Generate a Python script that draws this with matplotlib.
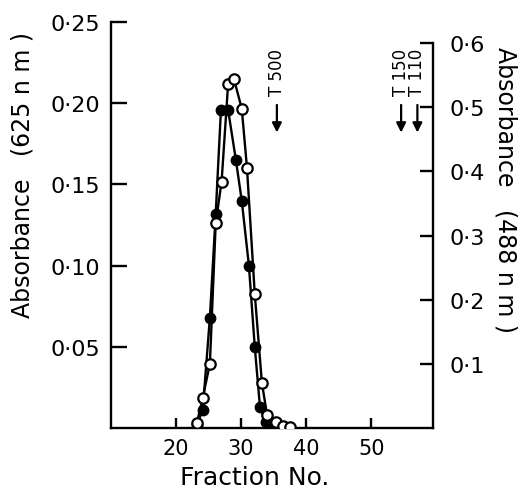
import matplotlib.pyplot as plt
import matplotlib as mpl

mpl.rcParams['font.family'] = 'DejaVu Sans'

# absorbance at 625 nm (filled circles, left axis)
frac_625 = [23.2, 24.1, 25.2, 26.1, 26.9, 28.0, 29.2, 30.1, 31.2, 32.1, 32.9, 33.8, 35.1]
abs_625 = [0.002, 0.011, 0.068, 0.132, 0.196, 0.196, 0.165, 0.140, 0.100, 0.050, 0.013, 0.004, 0.001]

# absorbance at 488 nm (open circles, right axis)
frac_488 = [23.2, 24.1, 25.2, 26.1, 27.0, 28.0, 28.9, 30.1, 30.9, 32.1, 33.2, 34.0, 35.4, 36.5, 37.5]
abs_488 = [0.008, 0.047, 0.100, 0.320, 0.384, 0.536, 0.544, 0.498, 0.406, 0.209, 0.070, 0.020, 0.009, 0.003, 0.002]

# elution markers (dextran standards)
marker_names = ["T 500", "T 150", "T 110"]
marker_frac = [35.5, 54.6, 57.1]

x_ticks = [20, 30, 40, 50]
left_ticks = [0.05, 0.10, 0.15, 0.20, 0.25]
right_ticks = [0.1, 0.2, 0.3, 0.4, 0.5, 0.6]


def dot_label(v, nd):
    return f"{v:.{nd}f}".replace(".", "\u00b7")


fig = plt.figure(figsize=(5.18, 4.89), dpi=100)
ax = fig.add_axes([0.2143, 0.1227, 0.6216, 0.830])
ax2 = ax.twinx()

lw = 1.7
ax.plot(frac_625, abs_625, color='k', lw=lw, marker='o', ms=7.5,
        mfc='k', mec='k', zorder=3)
ax2.plot(frac_488, abs_488, color='k', lw=lw, marker='o', ms=7.5,
         mfc='white', mec='k', mew=1.6, zorder=3)

ax.set_xlim(10, 59.5)
ax.set_ylim(0, 0.25)
ax2.set_ylim(0, 0.6 * 406 / 385)

for s in ['top', 'right']:
    ax.spines[s].set_visible(False)
for s in ['top', 'left', 'bottom']:
    ax2.spines[s].set_visible(False)
for sp in ax.spines.values():
    sp.set_linewidth(lw)
ax2.spines['right'].set_linewidth(lw)
ax2.spines['right'].set_bounds(0, 0.6)

ax.set_xticks(x_ticks)
ax.set_xticklabels([str(t) for t in x_ticks], fontsize=15)
ax.set_yticks(left_ticks)
ax.set_yticklabels([dot_label(t, 2) for t in left_ticks], fontsize=16)
ax2.set_yticks(right_ticks)
ax2.set_yticklabels([dot_label(t, 1) for t in right_ticks], fontsize=16)

ax.tick_params(axis='x', direction='in', length=7, width=lw, pad=7)
ax.tick_params(axis='y', direction='in', length=11.5, width=lw, pad=8)
ax2.tick_params(axis='y', direction='in', length=9.5, width=lw, pad=12)

ax.set_xlabel("Fraction No.", fontsize=18, ha='center', va='center')
ax.xaxis.set_label_coords(0.447, -0.121)
ax.set_ylabel("Absorbance   (625 n m )", fontsize=17, rotation=90,
              ha='center', va='center', rotation_mode='default')
ax.yaxis.set_label_coords(-0.276, 0.626)
ax2.set_ylabel("Absorbance   (488 n m )", fontsize=17, rotation=-90,
               ha='center', va='center', rotation_mode='default')
ax2.yaxis.set_label_coords(1.224, 0.589)

for name, fx in zip(marker_names, marker_frac):
    ax.annotate("", xy=(fx, 0.182), xytext=(fx, 0.199),
                arrowprops=dict(arrowstyle='-|>', color='k', lw=1.6,
                                mutation_scale=14, shrinkA=0, shrinkB=0))
    ax.text(fx, 0.205, name, rotation=90, ha='center', va='bottom', fontsize=12)

fig.savefig("out.png", dpi=100)
